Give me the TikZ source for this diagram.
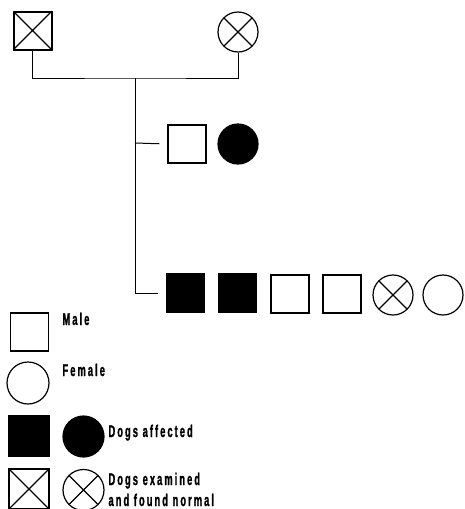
\documentclass[tikz,border=0pt]{standalone}
\usepackage{fontspec}
\usepackage{tikz}
\usetikzlibrary{positioning}
\newfontfamily\legendfont[FakeStretch=0.55,LetterSpace=12,FakeBold=1.2]{Liberation Sans}
\tikzset{
  male/.style={draw,rectangle,line width=1.2pt,minimum size=38pt,inner sep=0pt},
  female/.style={draw,circle,line width=1.2pt,minimum size=40pt,inner sep=0pt},
  affected/.style={fill=black},
  normalbox/.style={path picture={
      \draw[line width=1.2pt] (path picture bounding box.north west)--(path picture bounding box.south east)
        (path picture bounding box.south west)--(path picture bounding box.north east);}},
  normalring/.style={path picture={
      \draw[line width=1.2pt] (path picture bounding box.north west)--(path picture bounding box.south east)
        (path picture bounding box.south west)--(path picture bounding box.north east);}},
  legendtext/.style={anchor=base west,inner sep=0pt,font=\fontsize{17}{19}\legendfont\bfseries\selectfont}
}
\begin{document}
\begin{tikzpicture}[x=1pt,y=-1pt,line width=1pt]
  \useasboundingbox (0,0) rectangle (465,509);
  % parents
  \node[male,normalbox,line width=2pt] (sire) at (32.5,30.5) {};
  \node[female,normalring] (dam) at (238,32) {};
  \coordinate (mate) at (135,78);
  \coordinate (litterA) at (135,143);
  \coordinate (litterB) at (135,293);
  % first litter
  \node[male] (a1) at (187,144) {};
  \node[female,affected] (a2) at (238,144) {};
  % second litter
  \node[male,affected] (b1) at (185.5,293) {};
  \node[male,affected] (b2) at (237.5,293) {};
  \node[male] (b3) at (290,294) {};
  \node[male] (b4) at (342,294) {};
  \node[female,normalring] (b5) at (393,295) {};
  \node[female] (b6) at (443,295) {};
  \draw (sire.south) |- (mate) -| (dam.south);
  \draw (mate) -- (litterB);
  \draw[shorten >=8pt] (litterA) -- (a1.west);
  \draw[shorten >=8pt] (litterB) -- (b1.west);
  % key
  \node[male] (keyM) at (29.5,332) {};
  \node[legendtext] (txtM) at (62,325) {Male};
  \node[female,minimum size=42pt] (keyF) at (28,383) {};
  \node[legendtext] (txtF) at (62,376) {Female};
  \node[male,affected,minimum size=40pt] (keyMA) at (29,436) {};
  \node[female,affected,minimum size=41pt] (keyFA) at (83.5,436.5) {};
  \node[legendtext] (txtA) at (108,437) {Dogs affected};
  \node[male,normalbox,minimum size=40pt] (keyMN) at (29,489) {};
  \node[female,normalring,minimum size=41pt] (keyFN) at (83.5,490) {};
  \node[legendtext] (txtN1) at (108,485) {Dogs examined};
  \node[legendtext] (txtN2) at (108,506) {and found normal};
\end{tikzpicture}
\end{document}
